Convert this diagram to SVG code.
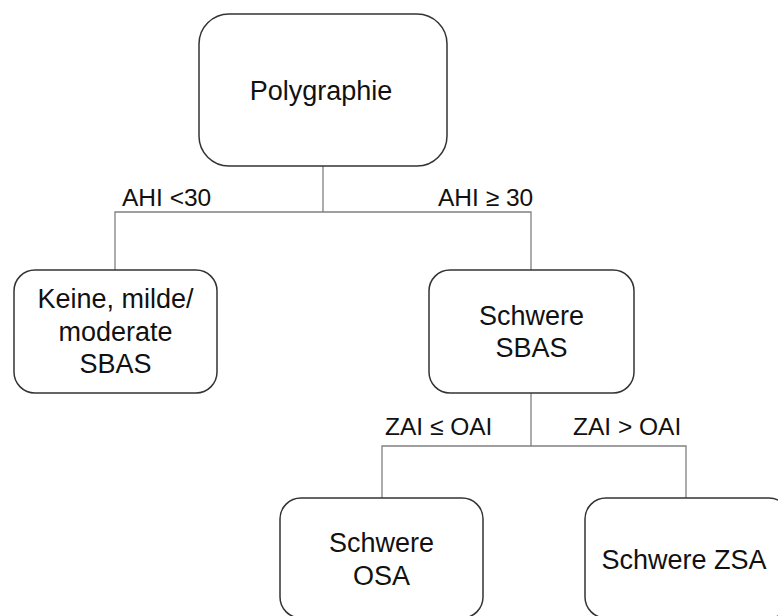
<svg xmlns="http://www.w3.org/2000/svg" width="778" height="616" viewBox="0 0 778 616">
<style>
.box{fill:#fff;stroke:#333;stroke-width:1.5}
.n{font-family:"Liberation Sans",Arial,sans-serif;font-size:27px;fill:#111;text-anchor:middle}
.l{font-family:"Liberation Sans",Arial,sans-serif;font-size:24.5px;fill:#111}
.c{fill:none;stroke:#808080;stroke-width:1.3}
</style>
<rect width="778" height="616" fill="#fff"/>
<g id="connectors">
<path class="c" d="M323,166 V212 M115,270 V212 H531 V270"/>
<path class="c" d="M531,393 V446 M382,498 V446 H686 V498"/>
</g>
<g id="labels">
<text class="l" x="122" y="206">AHI &lt;30</text>
<text class="l" x="438" y="206">AHI ≥ 30</text>
<text class="l" x="385" y="435">ZAI ≤ OAI</text>
<text class="l" x="573" y="435">ZAI &gt; OAI</text>
</g>
<g id="polygraphie">
<rect class="box" x="199" y="14" width="248" height="152" rx="30"/>
<text class="n" x="321" y="100">Polygraphie</text>
</g>
<g id="keine">
<rect class="box" x="14" y="270" width="203" height="123" rx="21"/>
<text class="n" x="115.5" y="308">Keine, milde/</text>
<text class="n" x="115.5" y="341">moderate</text>
<text class="n" x="115.5" y="373">SBAS</text>
</g>
<g id="schwere-sbas">
<rect class="box" x="429" y="270" width="205" height="123" rx="21"/>
<text class="n" x="531.5" y="325">Schwere</text>
<text class="n" x="531.5" y="357">SBAS</text>
</g>
<g id="schwere-osa">
<rect class="box" x="280" y="498" width="203" height="120" rx="21"/>
<text class="n" x="381.5" y="552">Schwere</text>
<text class="n" x="381.5" y="585">OSA</text>
</g>
<g id="schwere-zsa">
<rect class="box" x="585" y="498" width="205" height="120" rx="21"/>
<text class="n" x="684" y="569">Schwere ZSA</text>
</g>
</svg>
